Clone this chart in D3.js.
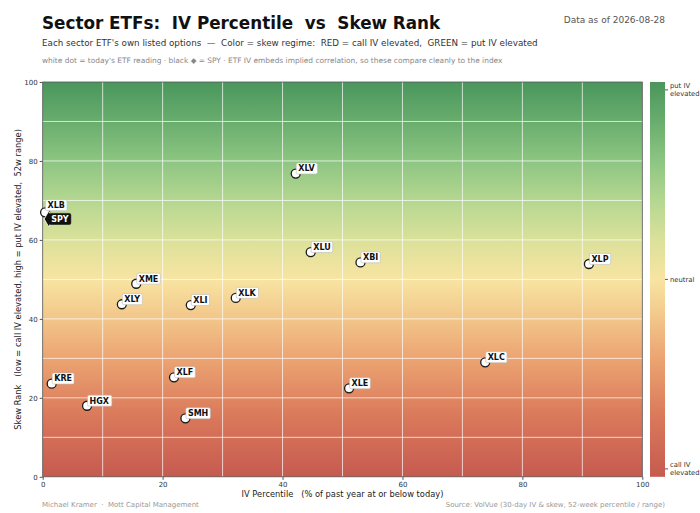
<!DOCTYPE html>
<html><head><meta charset="utf-8">
<script src="https://cdn.jsdelivr.net/npm/d3@7/dist/d3.min.js"></script>
<style>
body{margin:0;background:#fff;}
svg text{font-family:"DejaVu Sans",sans-serif;white-space:pre;}
</style></head><body>
<svg id="chart" width="700" height="513"></svg>
<script>
const tickers = ["XLV","XLU","XBI","XLP","XME","XLY","XLI","XLK","XLC","KRE","XLF","XLE","HGX","SMH","XLB"];
const ivPct   = [42.2, 44.7, 53.0, 91.1, 15.6, 13.2, 24.7, 32.2, 73.8, 1.5, 21.9, 51.1, 7.4, 23.8, 0.4];
const skewRank= [76.8, 56.9, 54.3, 53.9, 48.9, 43.7, 43.5, 45.3, 29.0, 23.6, 25.2, 22.4, 18.0, 14.8, 67.0];
const spy = {name:"SPY", iv:1.0, skew:65.3};
const xTicks = [0,20,40,60,80,100];
const yTicks = [0,20,40,60,80,100];
const gridVals = [0,10,20,30,40,50,60,70,80,90,100];
const cbTicks = [{v:98,t:["put IV","elevated"]},{v:50,t:["neutral"]},{v:2,t:["call IV","elevated"]}];
const colorStops = [[0,"#c65a50"],[0.15,"#d9785a"],[0.3,"#eca472"],[0.42,"#f3cc8e"],[0.5,"#f8e4a2"],[0.6,"#dbe19a"],[0.7,"#b4d791"],[0.8,"#8dc582"],[0.9,"#69ad6e"],[1,"#4a965c"]];

const svg = d3.select("#chart");
const L=42.7, R=642.3, T=82, B=476.8;
const x = d3.scaleLinear().domain([0,100]).range([L,R]);
const y = d3.scaleLinear().domain([0,100]).range([B,T]);

const defs = svg.append("defs");
const grad = defs.append("linearGradient").attr("id","bg").attr("x1",0).attr("y1",1).attr("x2",0).attr("y2",0);
colorStops.forEach(s=>grad.append("stop").attr("offset",s[0]).attr("stop-color",s[1]));

// titles
svg.append("text").attr("x",42).attr("y",29).attr("font-size",16.8).attr("font-weight","bold").attr("fill","#111")
  .text("Sector ETFs:  IV Percentile  vs  Skew Rank");
svg.append("text").attr("x",665).attr("y",23).attr("text-anchor","end").attr("font-size",9).attr("fill","#555")
  .text("Data as of 2026-08-28");
svg.append("text").attr("x",42).attr("y",46).attr("font-size",8.75).attr("fill","#333")
  .text("Each sector ETF's own listed options  —  Color = skew regime:  RED = call IV elevated,  GREEN = put IV elevated");
svg.append("text").attr("x",42).attr("y",63).attr("font-size",7.45).attr("fill","#888")
  .text("white dot = today's ETF reading · black ◆ = SPY · ETF IV embeds implied correlation, so these compare cleanly to the index");

// background
svg.append("rect").attr("x",L).attr("y",T).attr("width",R-L).attr("height",B-T).attr("fill","url(#bg)");
// grid
const g = svg.append("g");
g.selectAll(".vg").data(gridVals.slice(1,-1)).join("line").attr("x1",d=>x(d)).attr("x2",d=>x(d)).attr("y1",T).attr("y2",B)
  .attr("stroke","#fff").attr("stroke-opacity",0.7).attr("stroke-width",1);
g.selectAll(".hg").data(gridVals.slice(1,-1)).join("line").attr("y1",d=>y(d)).attr("y2",d=>y(d)).attr("x1",L).attr("x2",R)
  .attr("stroke","#fff").attr("stroke-opacity",0.7).attr("stroke-width",1);
svg.append("rect").attr("x",L).attr("y",T).attr("width",R-L).attr("height",B-T).attr("fill","none").attr("stroke","#555").attr("stroke-width",0.8);

// axes
const xa = svg.append("g").attr("transform",`translate(0,${B})`).call(d3.axisBottom(x).tickValues(xTicks).tickSize(3).tickPadding(2));
const ya = svg.append("g").attr("transform",`translate(${L},0)`).call(d3.axisLeft(y).tickValues(yTicks).tickSize(3).tickPadding(2));
[xa,ya].forEach(a=>{a.select(".domain").remove();a.selectAll("text").attr("font-size",7).attr("fill","#333").attr("font-family","DejaVu Sans");a.selectAll("line").attr("stroke","#555");});

svg.append("text").attr("x",(L+R)/2).attr("y",497).attr("text-anchor","middle").attr("font-size",8.3).attr("fill","#222")
  .text("IV Percentile   (% of past year at or below today)");
svg.append("text").attr("transform",`translate(21,${(T+B)/2}) rotate(-90)`).attr("text-anchor","middle").attr("font-size",8.3).attr("fill","#222")
  .text("Skew Rank   (low = call IV elevated, high = put IV elevated,  52w range)");

svg.append("text").attr("x",42).attr("y",507).attr("font-size",7).attr("fill","#999").text("Michael Kramer  ·  Mott Capital Management");
svg.append("text").attr("x",665).attr("y",507).attr("text-anchor","end").attr("font-size",7).attr("fill","#999").text("Source: VolVue (30-day IV & skew, 52-week percentile / range)");

// colorbar
const cbX=650, cbW=15;
svg.append("rect").attr("x",cbX).attr("y",T).attr("width",cbW).attr("height",B-T).attr("fill","url(#bg)");
cbTicks.forEach(c=>{
  const yy=y(c.v);
  svg.append("line").attr("x1",cbX+cbW).attr("x2",cbX+cbW+3).attr("y1",yy).attr("y2",yy).attr("stroke","#555");
  const t=svg.append("text").attr("x",cbX+cbW+5).attr("font-size",6.8).attr("fill","#333");
  const n=c.t.length;
  c.t.forEach((s,i)=>t.append("tspan").attr("x",cbX+cbW+5).attr("y",yy+2.4+(i-(n-1)/2)*8).text(s));
});

// points
const data = tickers.map((t,i)=>({name:t, iv:ivPct[i], skew:skewRank[i]}));
const pts = svg.append("g");
pts.selectAll("circle").data(data).join("circle").attr("cx",d=>x(d.iv)).attr("cy",d=>y(d.skew)).attr("r",4.5)
  .attr("fill","#fff").attr("stroke","#1a1a1a").attr("stroke-width",1.3);
function label(d, dark, nudge){
  const cx=x(d.iv), cy=y(d.skew)-(nudge||0);
  const lg=svg.append("g");
  const t=lg.append("text").attr("x",cx+2.5).attr("y",cy-2.2).attr("font-size",8).attr("font-weight","bold")
    .attr("fill",dark?"#fff":"#111").text(d.name);
  const bb=t.node().getBBox();
  lg.insert("rect","text").attr("x",bb.x-2).attr("y",cy-10.6).attr("width",bb.width+4).attr("height",11)
    .attr("rx",1.5).attr("fill",dark?"#111":"#fff").attr("stroke",dark?"#111":"#bbb").attr("stroke-width",0.6);
}
// resolve the one overlapping pair (XLB sits just above SPY)
data.forEach(d=>label(d,false, d.name==="XLB"?2:0));
// SPY
const sx=x(spy.iv), sy=y(spy.skew);
svg.append("path").attr("d",d3.symbol().type(d3.symbolDiamond).size(70)()).attr("transform",`translate(${sx},${sy})`)
  .attr("fill","#111").attr("stroke","#fff").attr("stroke-width",0.8);
label(spy,true,-5);
</script></body></html>
